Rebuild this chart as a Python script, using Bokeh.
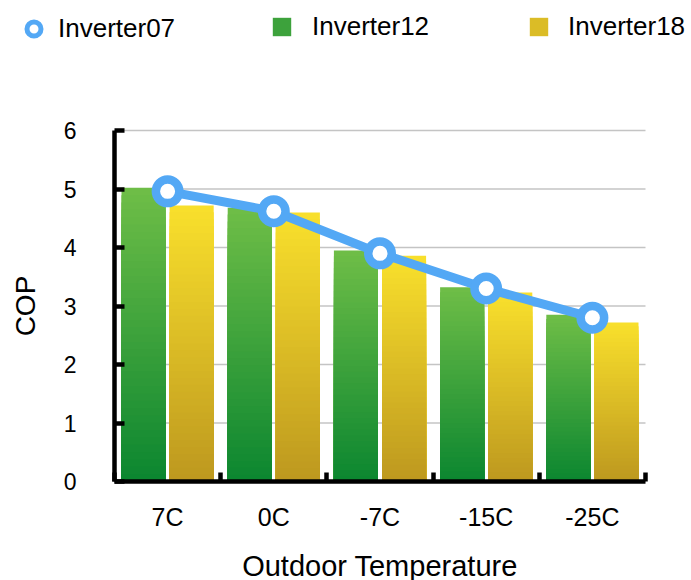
import numpy as np
from bokeh.plotting import figure
from bokeh.models import (ColumnDataSource, FixedTicker, Legend, LegendItem,
                          Range1d, LinearAxis)
from bokeh.embed import file_html
from bokeh.resources import INLINE

# ---- data ----
categories = ["7C", "0C", "-7C", "-15C", "-25C"]
inverter07 = [4.96, 4.62, 3.90, 3.30, 2.80]
inverter12 = [5.02, 4.68, 3.95, 3.32, 2.85]
inverter18 = [4.72, 4.60, 3.86, 3.23, 2.72]
y_ticks = [0, 1, 2, 3, 4, 5, 6]
series_names = ["Inverter07", "Inverter12", "Inverter18"]

FONT = "Liberation Sans"
BLUE = "#53a8f5"
GREEN_TOP, GREEN_BOT = "#6fbe47", "#0b8630"
YEL_TOP, YEL_BOT = "#f9e02c", "#bd981f"

# ---- layout (pixels) ----
W, H = 691, 580
AX_L, AX_R = 114, 645      # x pixel of the category axis ends
AX_T, AX_B = 130, 481      # y pixel of value 6 and value 0
n_cat = len(categories)
y_max = y_ticks[-1]
px_x = (AX_R - AX_L) / n_cat
px_y = (AX_B - AX_T) / y_max
x_range = Range1d(-AX_L / px_x, (W - AX_L) / px_x)
y_range = Range1d(-(H - AX_B) / px_y, AX_B / px_y)


def hex2rgb(h):
    h = h.lstrip("#")
    return np.array([int(h[i:i + 2], 16) for i in (0, 2, 4)], dtype=float)


def mix(c0, c1, t):
    a, b = hex2rgb(c0), hex2rgb(c1)
    c = a + (b - a) * t
    return "#%02x%02x%02x" % tuple(int(round(v)) for v in c)


def gradient_bars(values, offset, width, bot, top, n=40):
    left, right, tops, colors = [], [], [], []
    for i, v in enumerate(values):
        for k in range(n - 1, -1, -1):
            left.append(i + offset)
            right.append(i + offset + width)
            tops.append(v * (k + 1) / n)
            colors.append(mix(bot, top, (k + 0.5) / n))
    return ColumnDataSource(dict(left=left, right=right, top=tops,
                                 bottom=[0] * len(tops), color=colors))


p = figure(width=W, height=H, x_range=x_range, y_range=y_range,
           x_axis_type=None, y_axis_type=None,
           output_backend="svg", toolbar_location=None, min_border=0)
p.outline_line_color = None
p.background_fill_color = "white"
p.border_fill_color = "white"

# horizontal grid lines, only across the category span
p.segment(x0=[0] * len(y_ticks), x1=[n_cat] * len(y_ticks),
          y0=y_ticks, y1=y_ticks, line_color="#c4c4c4", line_width=1.5)

bar_w = 0.415
src12 = gradient_bars(inverter12, 0.066, bar_w, GREEN_BOT, GREEN_TOP)
src18 = gradient_bars(inverter18, 0.519, bar_w, YEL_BOT, YEL_TOP)
p.quad(left="left", right="right", top="top", bottom="bottom",
       fill_color="color", line_color=None, source=src12)
p.quad(left="left", right="right", top="top", bottom="bottom",
       fill_color="color", line_color=None, source=src18)

xc = [i + 0.5 for i in range(n_cat)]
p.line(xc, inverter07, line_color=BLUE, line_width=9)
p.scatter(xc, inverter07, marker="circle", size=23.5, line_width=8.5,
          line_color=BLUE, fill_color="white")

# legend swatches (points lie outside the visible ranges)
l07 = p.scatter(x=[-50], y=[-50], marker="circle", size=14, line_width=5,
                line_color=BLUE, fill_color="white")
l12 = p.quad(left=[-50], right=[-49], top=[-50], bottom=[-51], line_color=None,
             fill_color=mix(GREEN_BOT, GREEN_TOP, 0.5))
l18 = p.quad(left=[-50], right=[-49], top=[-50], bottom=[-51], line_color=None,
             fill_color=mix(YEL_BOT, YEL_TOP, 0.5))

# (renderer, glyph box left px, glyph box size, label start px, row centre px)
for name, r, gx, gs, lx, rc in [(series_names[0], l07, 16, 35, 58, 28),
                                (series_names[1], l12, 270, 23, 312, 30),
                                (series_names[2], l18, 527, 23, 568, 30)]:
    lg = Legend(items=[LegendItem(label=name, renderers=[r])],
                location=(gx, int(round(H - (rc + gs / 2)))),
                orientation="horizontal", padding=0, margin=0, spacing=0,
                glyph_width=gs, glyph_height=gs, label_height=gs,
                label_standoff=lx - gx - gs, border_line_alpha=0,
                background_fill_alpha=0, label_text_font=FONT,
                label_text_font_size="26px", label_text_color="black")
    p.add_layout(lg, "center")

# axes drawn at value 0 / category start
xa = LinearAxis(fixed_location=0, bounds=(0, n_cat))
xa.ticker = FixedTicker(ticks=xc, minor_ticks=list(range(n_cat + 1)))
xa.major_label_overrides = {x: c for x, c in zip(xc, categories)}
xa.major_tick_in = 0
xa.major_tick_out = 0
xa.minor_tick_in = 9
xa.minor_tick_out = 0
xa.minor_tick_line_width = 4.5
xa.minor_tick_line_color = "black"
xa.axis_line_width = 4.5
xa.axis_line_color = "black"
xa.major_label_text_font = FONT
xa.major_label_text_font_size = "25px"
xa.major_label_text_color = "black"
xa.major_label_standoff = 21
xa.axis_label = "Outdoor Temperature"
xa.axis_label_text_font = FONT
xa.axis_label_text_font_size = "29px"
xa.axis_label_text_font_style = "normal"
xa.axis_label_text_color = "black"
xa.axis_label_standoff = 16
p.add_layout(xa, "below")

ya = LinearAxis(fixed_location=0, bounds=(0, y_max))
ya.ticker = FixedTicker(ticks=y_ticks, minor_ticks=[])
ya.major_tick_in = 10
ya.major_tick_out = 0
ya.major_tick_line_width = 4.5
ya.major_tick_line_color = "black"
ya.minor_tick_in = 0
ya.minor_tick_out = 0
ya.axis_line_width = 4.5
ya.axis_line_color = "black"
ya.major_label_text_font = FONT
ya.major_label_text_font_size = "23px"
ya.major_label_text_color = "black"
ya.major_label_standoff = 38
ya.axis_label = "COP"
ya.axis_label_text_font = FONT
ya.axis_label_text_font_size = "28px"
ya.axis_label_text_font_style = "normal"
ya.axis_label_text_color = "black"
ya.axis_label_standoff = 20
p.add_layout(ya, "left")

open("out.html", "w").write(file_html(p, INLINE))
